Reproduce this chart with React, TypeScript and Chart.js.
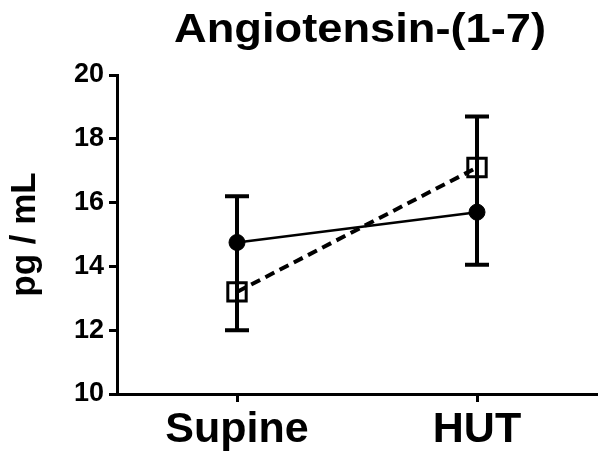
import React, { useEffect, useRef } from 'react';
import { Chart, registerables } from 'chart.js';
Chart.register(...registerables);

const categories = ['Supine', 'HUT'];
const solidCircleValues = [14.75, 15.7];
const dashedSquareValues = [13.2, 17.1];
const errorUpper = [16.2, 18.7];
const errorLower = [12.0, 14.05];
const yTicks = [10, 12, 14, 16, 18, 20];
const titleText = 'Angiotensin-(1-7)';
const yTitle = 'pg / mL';
const FONT = "'Liberation Sans', Arial, Helvetica, sans-serif";

const errorBarPlugin = {
  id: 'errorBars',
  beforeDatasetsDraw(chart: any) {
    const { ctx, scales } = chart;
    const x = scales.x;
    const y = scales.y;
    ctx.save();
    ctx.strokeStyle = '#000';
    ctx.lineWidth = 4;
    ctx.lineCap = 'butt';
    categories.forEach((_c, i) => {
      const px = x.getPixelForValue(i);
      const top = y.getPixelForValue(errorUpper[i]);
      const bot = y.getPixelForValue(errorLower[i]);
      ctx.beginPath();
      ctx.moveTo(px, top);
      ctx.lineTo(px, bot);
      ctx.moveTo(px - 12, top);
      ctx.lineTo(px + 12, top);
      ctx.moveTo(px - 12, bot);
      ctx.lineTo(px + 12, bot);
      ctx.stroke();
    });
    ctx.restore();
  },
};

const titlePlugin = {
  id: 'customTitle',
  afterDraw(chart: any) {
    const { ctx, chartArea } = chart;
    ctx.save();
    ctx.fillStyle = '#000';
    ctx.font = `bold 41px ${FONT}`;
    ctx.textAlign = 'center';
    ctx.textBaseline = 'alphabetic';
    const w = ctx.measureText(titleText).width;
    const sx = 372 / w;
    const cx = (chartArea.left + chartArea.right) / 2 + 3;
    ctx.translate(cx, 42);
    ctx.scale(sx, 1);
    ctx.fillText(titleText, 0, 0);
    ctx.restore();
  },
};

export default function App() {
  const ref = useRef<HTMLCanvasElement>(null);
  useEffect(() => {
    if (!ref.current) return;
    const chart = new Chart(ref.current, {
      type: 'line',
      data: {
        labels: categories,
        datasets: [
          {
            data: solidCircleValues,
            borderColor: '#000',
            backgroundColor: '#000',
            borderWidth: 2.5,
            pointStyle: 'circle',
            pointRadius: 8,
            pointBackgroundColor: '#000',
            pointBorderColor: '#000',
            pointBorderWidth: 1,
          },
          {
            data: dashedSquareValues,
            borderColor: '#000',
            backgroundColor: 'rgba(0,0,0,0)',
            borderWidth: 4,
            borderDash: [10, 6],
            pointStyle: 'rect',
            pointRadius: 13,
            pointBackgroundColor: 'rgba(0,0,0,0)',
            pointBorderColor: '#000',
            pointBorderWidth: 3,
          },
        ],
      },
      options: {
        responsive: false,
        animation: false,
        layout: { autoPadding: false, padding: { top: 75, right: 3, left: 0, bottom: 0 } },
        plugins: {
          legend: { display: false },
          title: { display: false },
          tooltip: { enabled: false },
        },
        scales: {
          x: {
            type: 'category',
            offset: true,
            grid: { drawOnChartArea: false, drawTicks: true, tickLength: 8, tickWidth: 3, color: '#000', offset: false },
            border: { display: true, width: 3, color: '#000' },
            ticks: { color: '#000', font: { family: FONT, size: 43, weight: 'bold' }, padding: 2 },
            afterFit(scale: any) {
              scale.height = 60;
              scale.paddingLeft = 0;
              scale.paddingRight = 0;
            },
          },
          y: {
            min: 10,
            max: 20,
            grid: { drawOnChartArea: false, drawTicks: true, tickLength: 8, tickWidth: 3, color: '#000' },
            border: { display: true, width: 3, color: '#000' },
            ticks: { color: '#000', font: { family: FONT, size: 27, weight: 'bold' }, padding: 5 },
            afterBuildTicks(scale: any) {
              scale.ticks = yTicks.map((v) => ({ value: v }));
            },
            title: {
              display: true,
              text: yTitle,
              color: '#000',
              font: { family: FONT, size: 35, weight: 'bold' },
              padding: { top: 4, bottom: 4 },
            },
            afterFit(scale: any) {
              scale.width = 117;
            },
          },
        },
      },
      plugins: [errorBarPlugin, titlePlugin],
    });
    return () => chart.destroy();
  }, []);
  return (
    <div style={{ position: 'absolute', left: 0, top: 0, width: 600, height: 454, background: '#fff' }}>
      <canvas ref={ref} width={600} height={454} />
    </div>
  );
}
